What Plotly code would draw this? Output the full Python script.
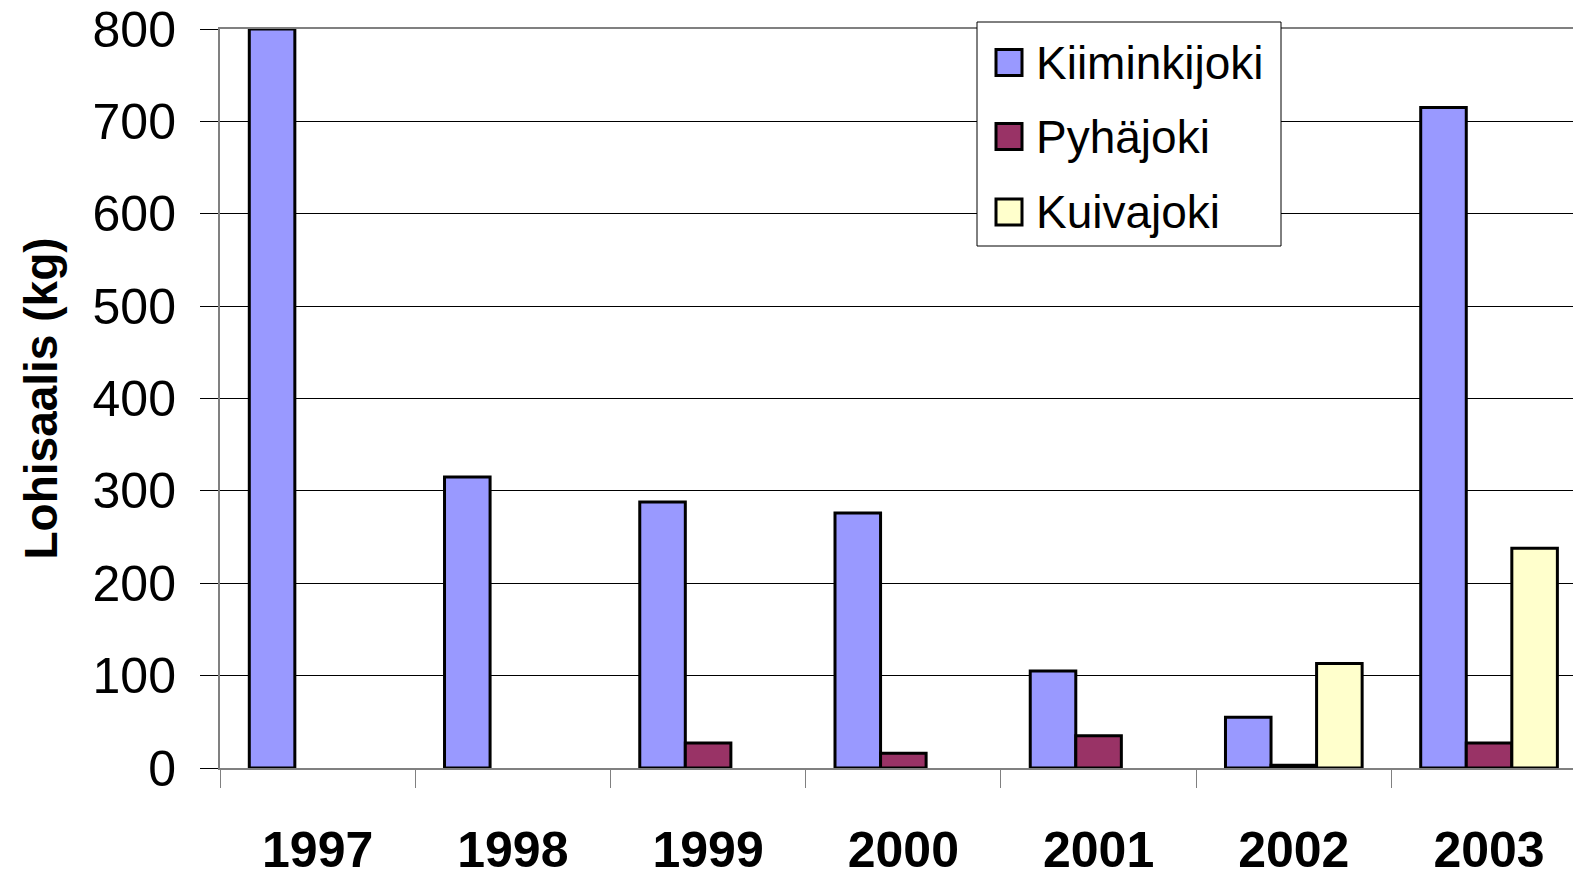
import plotly.graph_objects as go

years = ["1997", "1998", "1999", "2000", "2001", "2002", "2003"]
series_names = ["Kiiminkijoki", "Pyhäjoki", "Kuivajoki"]
kiiminkijoki = [800, 315, 288, 276, 105, 55, 715]
pyhajoki = [None, None, 27, 16, 35, 3, 27]
kuivajoki = [None, None, None, None, None, 113, 238]
colors = ["#9999FF", "#993366", "#FFFFCC"]
y_ticks = [0, 100, 200, 300, 400, 500, 600, 700, 800]

FONT = "Arial, 'Liberation Sans', sans-serif"
W, H = 1573, 878
L, R, T, B = 220, 0, 29, 878 - 768
pw, ph = W - L - R, H - T - B

fig = go.Figure()
for name, vals, col in zip(series_names, [kiiminkijoki, pyhajoki, kuivajoki], colors):
    fig.add_trace(go.Bar(
        x=years, y=vals, name=name, showlegend=False,
        marker=dict(color=col, line=dict(color="black", width=3)),
    ))

# pixel (page coords) -> paper coords
def px2x(px):
    return (px - L) / pw

def py2y(py):
    return (H - B - py) / ph

# legend (drawn manually for large symbols)
shapes = [dict(type="rect", xref="paper", yref="paper",
               x0=px2x(977), x1=px2x(1281), y0=py2y(246), y1=py2y(22),
               line=dict(color="black", width=1), fillcolor="white", layer="above")]
annotations = []
row_y = [62.5, 136.5, 212]
for name, col, cy in zip(series_names, colors, row_y):
    shapes.append(dict(type="rect", xref="paper", yref="paper",
                       x0=px2x(996), x1=px2x(1022), y0=py2y(cy + 13), y1=py2y(cy - 13),
                       line=dict(color="black", width=3), fillcolor=col, layer="above"))
    annotations.append(dict(xref="paper", yref="paper", x=px2x(1034), y=py2y(cy),
                            text=name, showarrow=False, xanchor="left", yanchor="middle",
                            font=dict(family=FONT, size=46, color="black")))

fig.update_layout(
    width=W, height=H,
    margin=dict(l=L, r=R, t=T, b=B, pad=0, autoexpand=False),
    paper_bgcolor="white", plot_bgcolor="white",
    barmode="group", bargap=0.30, bargroupgap=0,
    shapes=shapes, annotations=annotations,
    font=dict(family=FONT, color="black"),
)
fig.update_xaxes(
    type="category", range=[-0.5, 6.43], automargin=False,
    showgrid=False, showline=True, linecolor="#808080", linewidth=2, mirror=True,
    ticks="outside", tickson="boundaries", ticklen=18, tickcolor="#808080", tickwidth=1,
    tickfont=dict(family=FONT, size=50, color="black", weight="bold"),
    ticklabelstandoff=37, ticklabeloverflow="allow",
)
fig.update_yaxes(
    range=[0, 800], tickvals=y_ticks, automargin=False,
    showgrid=True, gridcolor="black", gridwidth=1,
    showline=True, linecolor="#808080", linewidth=2,
    ticks="outside", ticklen=18, tickcolor="black", tickwidth=1,
    tickfont=dict(family=FONT, size=50, color="black"),
    ticklabelstandoff=14, ticklabeloverflow="allow",
    title=dict(text="Lohisaalis (kg)", font=dict(family=FONT, size=46, color="black", weight="bold"), standoff=20),
    zeroline=False,
)
fig.write_html("out.html", config={"displayModeBar": False},
               post_script="document.body.style.margin='0';document.body.style.overflow='hidden';")
